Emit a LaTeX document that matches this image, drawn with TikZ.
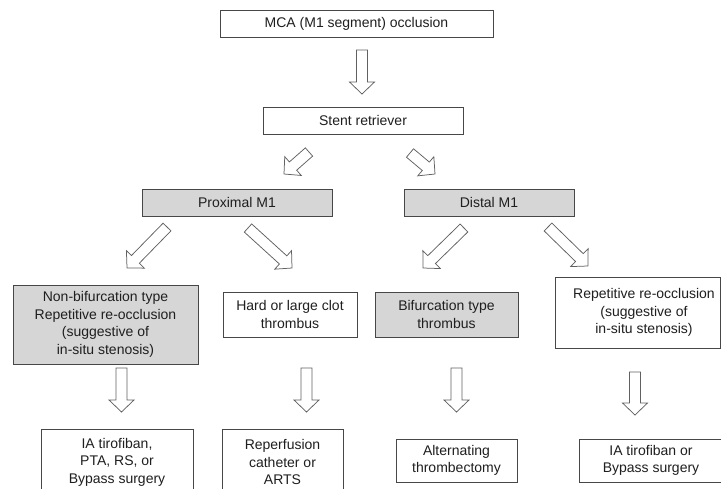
\documentclass[tikz,border=0pt]{standalone}
\usepackage{fontspec}
\setmainfont{Liberation Sans}
\usetikzlibrary{calc}
\tikzset{
  box/.style={draw=black!72, line width=0.8pt, fill=white, inner sep=0pt, align=center,
    text=black!88, font=\fontsize{14}{17.6}\selectfont},
  graybox/.style={box, fill=black!16},
  txt/.style={inner sep=0pt, align=center, text=black!88, font=\fontsize{14}{17.6}\selectfont},
  blockarrow/.style={draw=black!62, fill=white, line width=0.75pt, line join=miter}
}
\newcommand\blockarr[2]{%
  \coordinate (bab) at ($(#2)!12pt!(#1)$);
  \draw[blockarrow] ($(#1)!5.5pt!90:(#2)$) -- ($(bab)!5.5pt!90:(#2)$) -- ($(bab)!12.5pt!90:(#2)$)
    -- (#2) -- ($(bab)!12.5pt!-90:(#2)$) -- ($(bab)!5.5pt!-90:(#2)$) -- ($(#1)!5.5pt!-90:(#2)$) -- cycle;
}
\begin{document}
\begin{tikzpicture}[x=1pt,y=-1pt]
\useasboundingbox[fill=white] (0,0) rectangle (721,488);

% boxes
\node[box, minimum width=273pt, minimum height=27pt] (mca) at (356.5,23.5) {MCA (M1 segment) occlusion};
\node[box, minimum width=200pt, minimum height=27pt] (stent) at (363,120.5) {Stent retriever};
\node[graybox, minimum width=190pt, minimum height=27pt] (prox) at (237,202.5) {Proximal M1};
\node[graybox, minimum width=170pt, minimum height=27pt] (dist) at (489,202.5) {Distal M1};
\node[graybox, minimum width=185pt, minimum height=79pt] (nonbif) at (105.5,324.5)
  {Non-bifurcation type\\Repetitive re-occlusion\\(suggestive of\\in-situ stenosis)};
\node[box, minimum width=134pt, minimum height=45pt] (hard) at (290,314.5) {Hard or large clot\\thrombus};
\node[graybox, minimum width=143pt, minimum height=45pt] (bif) at (446.5,314.5) {Bifurcation type\\thrombus};
\node[box, minimum width=165pt, minimum height=71pt] (rep) at (637.5,312.5) {};
\node[txt] (reptext) at (644,312.5) {Repetitive re-occlusion\\(suggestive of\\in-situ stenosis)};
\node[box, minimum width=152pt, minimum height=66pt] (iapta) at (117,462) {IA tirofiban,\\PTA, RS, or\\Bypass surgery};
\node[box, minimum width=121pt, minimum height=66pt] (reperf) at (282.5,462) {Reperfusion\\catheter or\\ARTS};
\node[box, minimum width=121pt, minimum height=43pt] (alt) at (456.5,460.5) {Alternating\\thrombectomy};
\node[box, minimum width=142pt, minimum height=43pt] (iaby) at (650,460.5) {};
\node[txt] (iabytext) at (651,460.5) {IA tirofiban or\\Bypass surgery};

% arrow end points
\coordinate (a1s) at (362,50);   \coordinate (a1e) at (362,94);
\coordinate (a2s) at (309,152);  \coordinate (a2e) at (284,174);
\coordinate (a3s) at (410,153);  \coordinate (a3e) at (435,174);
\coordinate (a4s) at (167,227);  \coordinate (a4e) at (127,268);
\coordinate (a5s) at (248,228);  \coordinate (a5e) at (292,268);
\coordinate (a6s) at (464,228);  \coordinate (a6e) at (423,268);
\coordinate (a7s) at (548,227);  \coordinate (a7e) at (588,266);
\coordinate (a8s) at (121.5,368); \coordinate (a8e) at (121.5,412);
\coordinate (a9s) at (306.5,368); \coordinate (a9e) at (306.5,412);
\coordinate (a10s) at (456.5,368); \coordinate (a10e) at (456.5,412);
\coordinate (a11s) at (635,372); \coordinate (a11e) at (635,415);

\blockarr{a1s}{a1e}
\blockarr{a2s}{a2e}
\blockarr{a3s}{a3e}
\blockarr{a4s}{a4e}
\blockarr{a5s}{a5e}
\blockarr{a6s}{a6e}
\blockarr{a7s}{a7e}
\blockarr{a8s}{a8e}
\blockarr{a9s}{a9e}
\blockarr{a10s}{a10e}
\blockarr{a11s}{a11e}
\end{tikzpicture}
\end{document}
